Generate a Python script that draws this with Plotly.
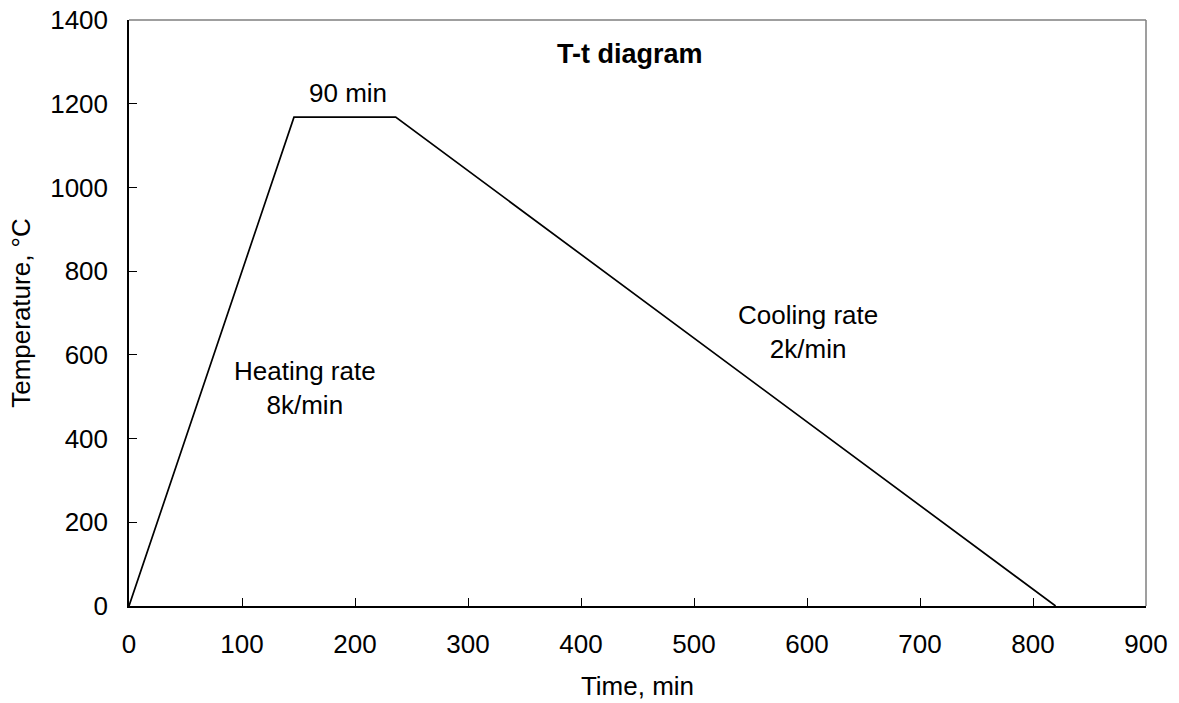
import plotly.graph_objects as go

time_min = [0, 146, 236, 820]
temperature = [0, 1168, 1168, 0]

x_ticks = [0, 100, 200, 300, 400, 500, 600, 700, 800, 900]
y_ticks = [0, 200, 400, 600, 800, 1000, 1200, 1400]

FONT = "Liberation Sans, Arial, sans-serif"
FS = 26

fig = go.Figure()
fig.add_trace(go.Scatter(x=time_min, y=temperature, mode="lines",
                         line=dict(color="black", width=1.7), showlegend=False))

fig.update_layout(
    width=1179, height=703,
    margin=dict(l=129, r=33, t=20, b=97, autoexpand=False),
    paper_bgcolor="white", plot_bgcolor="white",
    font=dict(family=FONT, size=FS, color="black"),
    xaxis=dict(range=[0, 900], tickvals=x_ticks, ticks="inside", ticklen=8,
               tickcolor="black", showline=True, linecolor="black", linewidth=1.5,
               showgrid=False, zeroline=False, automargin=False,
               ticklabelstandoff=14,
               title=dict(text="Time, min", font=dict(size=FS), standoff=19)),
    yaxis=dict(range=[0, 1400], tickvals=y_ticks, ticks="inside", ticklen=8,
               tickcolor="black", showline=True, linecolor="black", linewidth=1.5,
               showgrid=False, zeroline=False, automargin=False,
               ticklabelstandoff=14,
               title=dict(text="Temperature, °C", font=dict(size=FS), standoff=12)),
    shapes=[
        dict(type="line", xref="paper", yref="paper", x0=0, x1=1, y0=1, y1=1,
             line=dict(color="#7f7f7f", width=1.5)),
        dict(type="line", xref="paper", yref="paper", x0=1, x1=1, y0=0, y1=1,
             line=dict(color="#7f7f7f", width=1.5)),
    ],
    annotations=[
        dict(text="<b>T-t diagram</b>", x=443, y=1318, xref="x", yref="y",
             showarrow=False, xanchor="center", yanchor="middle", font=dict(size=27)),
        dict(text="90 min", x=194, y=1225, xref="x", yref="y",
             showarrow=False, xanchor="center", yanchor="middle", font=dict(size=FS)),
        dict(text="Heating rate<br>8k/min", x=156, y=521, xref="x", yref="y",
             showarrow=False, xanchor="center", yanchor="middle", font=dict(size=FS)),
        dict(text="Cooling rate<br>2k/min", x=601, y=655, xref="x", yref="y",
             showarrow=False, xanchor="center", yanchor="middle", font=dict(size=FS)),
    ],
)

fig.write_html("out.html")
